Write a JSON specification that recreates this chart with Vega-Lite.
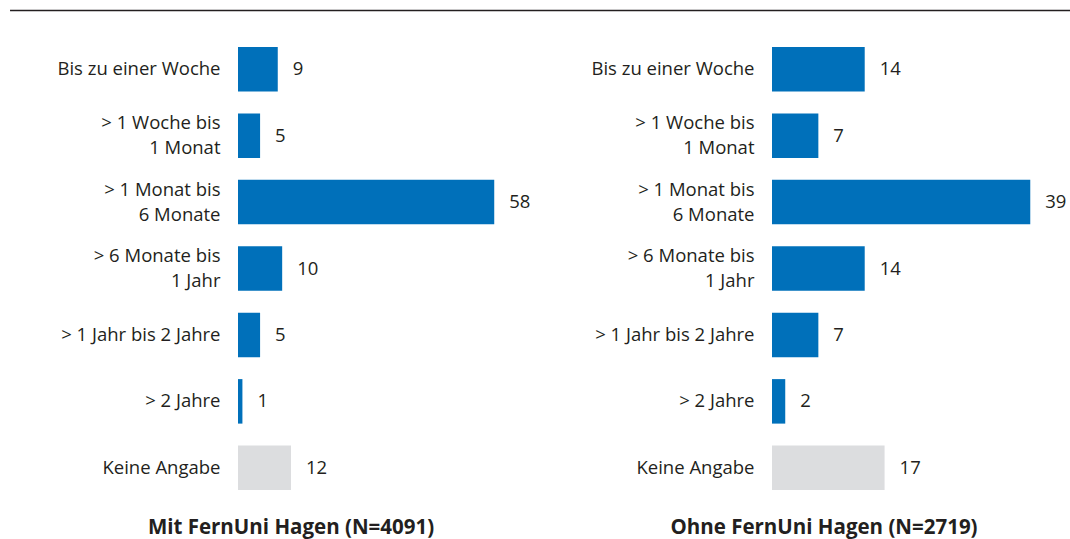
{
  "$schema": "https://vega.github.io/schema/vega-lite/v6.json",
  "padding": {"left": 9, "top": 9, "right": 0, "bottom": 0},
  "autosize": {"type": "pad"},
  "background": "white",
  "config": {"view": {"stroke": null}, "font": "Open Sans"},
  "data": {"values": [
    {"gruppe": "mit", "kategorie": "Bis zu einer Woche", "wert": 9, "typ": "Angabe"},
    {"gruppe": "mit", "kategorie": "> 1 Woche bis|1 Monat", "wert": 5, "typ": "Angabe"},
    {"gruppe": "mit", "kategorie": "> 1 Monat bis|6 Monate", "wert": 58, "typ": "Angabe"},
    {"gruppe": "mit", "kategorie": "> 6 Monate bis|1 Jahr", "wert": 10, "typ": "Angabe"},
    {"gruppe": "mit", "kategorie": "> 1 Jahr bis 2 Jahre", "wert": 5, "typ": "Angabe"},
    {"gruppe": "mit", "kategorie": "> 2 Jahre", "wert": 1, "typ": "Angabe"},
    {"gruppe": "mit", "kategorie": "Keine Angabe", "wert": 12, "typ": "Keine Angabe"},
    {"gruppe": "ohne", "kategorie": "Bis zu einer Woche", "wert": 14, "typ": "Angabe"},
    {"gruppe": "ohne", "kategorie": "> 1 Woche bis|1 Monat", "wert": 7, "typ": "Angabe"},
    {"gruppe": "ohne", "kategorie": "> 1 Monat bis|6 Monate", "wert": 39, "typ": "Angabe"},
    {"gruppe": "ohne", "kategorie": "> 6 Monate bis|1 Jahr", "wert": 14, "typ": "Angabe"},
    {"gruppe": "ohne", "kategorie": "> 1 Jahr bis 2 Jahre", "wert": 7, "typ": "Angabe"},
    {"gruppe": "ohne", "kategorie": "> 2 Jahre", "wert": 2, "typ": "Angabe"},
    {"gruppe": "ohne", "kategorie": "Keine Angabe", "wert": 17, "typ": "Keine Angabe"}
  ]},
  "spacing": 24,
  "columns": 1,
  "align": "none",
  "concat": [
    {
      "width": 832,
      "height": 1,
      "data": {"values": [{"a": -0.274, "b": 1}]},
      "mark": {"type": "rule", "color": "#231F20", "strokeWidth": 1.5, "clip": false},
      "encoding": {
        "x": {"field": "a", "type": "quantitative", "scale": {"domain": [0, 1], "nice": false, "zero": false}, "axis": null},
        "x2": {"field": "b"}
      }
    },
    {
      "spacing": 10,
      "hconcat": [
        {
          "width": 296,
          "height": 465,
          "transform": [{"filter": "datum.gruppe == 'mit'"}],
          "title": {"text": "Mit FernUni Hagen (N=4091)", "orient": "bottom", "anchor": "middle", "frame": "group", "dx": -95, "offset": 33, "baseline": "alphabetic", "fontSize": 20.5, "fontWeight": "bold", "color": "#231F20"},
          "encoding": {
            "y": {"field": "kategorie", "type": "nominal", "sort": null, "scale": {"paddingInner": 0.33, "paddingOuter": 0.165},
              "axis": {"title": null, "domain": false, "ticks": false, "labelPadding": 18, "minExtent": 228, "maxExtent": 228, "labelFontSize": 18.5, "labelColor": "#231F20", "labelLimit": 300, "labelLineHeight": 25, "labelExpr": "split(datum.value, '|')",
                "labelOffset": {"condition": {"test": "indexof(datum.value, '|') >= 0", "value": -12.5}, "value": 0}}},
            "x": {"field": "wert", "type": "quantitative", "scale": {"domain": [0, 67], "nice": false}, "axis": null}
          },
          "layer": [
            {"mark": {"type": "bar"}, "encoding": {"color": {"field": "typ", "type": "nominal", "scale": {"domain": ["Angabe", "Keine Angabe"], "range": ["#0070BA", "#DCDDDF"]}, "legend": null}}},
            {"mark": {"type": "text", "align": "left", "baseline": "middle", "dx": 15, "fontSize": 18.5, "color": "#231F20"}, "encoding": {"text": {"field": "wert", "type": "quantitative"}}}
          ]
        },
        {
          "width": 298,
          "height": 465,
          "transform": [{"filter": "datum.gruppe == 'ohne'"}],
          "title": {"text": "Ohne FernUni Hagen (N=2719)", "orient": "bottom", "anchor": "middle", "frame": "group", "dx": -97, "offset": 33, "baseline": "alphabetic", "fontSize": 20.5, "fontWeight": "bold", "color": "#231F20"},
          "encoding": {
            "y": {"field": "kategorie", "type": "nominal", "sort": null, "scale": {"paddingInner": 0.33, "paddingOuter": 0.165},
              "axis": {"title": null, "domain": false, "ticks": false, "labelPadding": 18, "minExtent": 228, "maxExtent": 228, "labelFontSize": 18.5, "labelColor": "#231F20", "labelLimit": 300, "labelLineHeight": 25, "labelExpr": "split(datum.value, '|')",
                "labelOffset": {"condition": {"test": "indexof(datum.value, '|') >= 0", "value": -12.5}, "value": 0}}},
            "x": {"field": "wert", "type": "quantitative", "scale": {"domain": [0, 45], "nice": false}, "axis": null}
          },
          "layer": [
            {"mark": {"type": "bar"}, "encoding": {"color": {"field": "typ", "type": "nominal", "scale": {"domain": ["Angabe", "Keine Angabe"], "range": ["#0070BA", "#DCDDDF"]}, "legend": null}}},
            {"mark": {"type": "text", "align": "left", "baseline": "middle", "dx": 15, "fontSize": 18.5, "color": "#231F20"}, "encoding": {"text": {"field": "wert", "type": "quantitative"}}}
          ]
        }
      ]
    }
  ]
}
